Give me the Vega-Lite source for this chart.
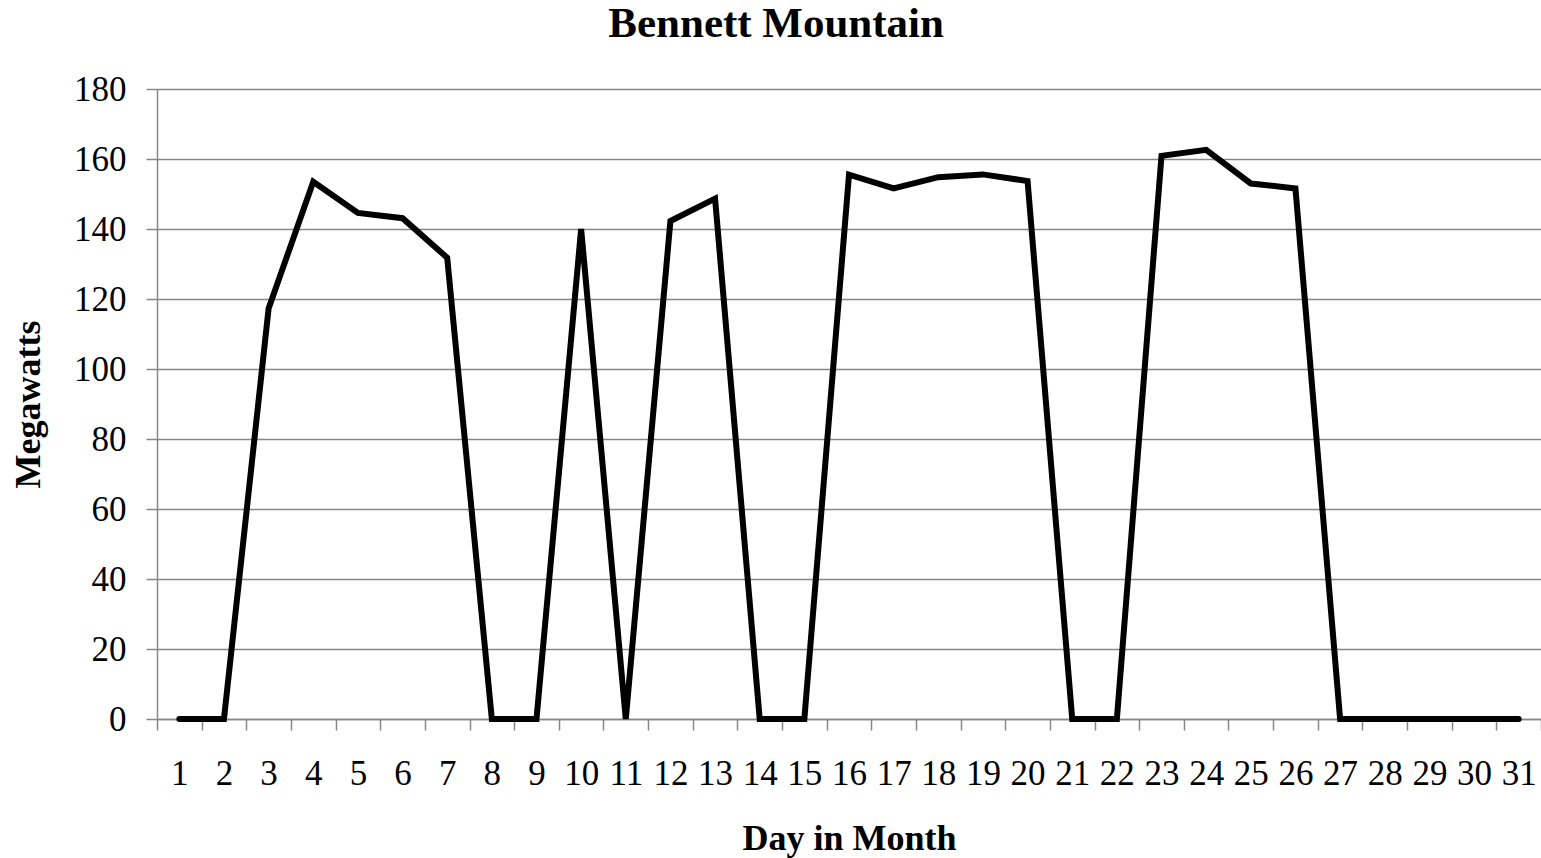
{
  "$schema": "https://vega.github.io/schema/vega-lite/v6.json",
  "autosize": "none",
  "width": 1384,
  "height": 630,
  "padding": {"left": 157, "top": 89, "right": 0, "bottom": 139},
  "background": "white",
  "title": {
    "text": "Bennett Mountain",
    "font": "Liberation Serif",
    "fontSize": 43,
    "fontWeight": "bold",
    "color": "black",
    "anchor": "middle",
    "frame": "bounds",
    "offset": 26
  },
  "config": {
    "view": {"stroke": null},
    "axis": {
      "labelFont": "Liberation Serif",
      "titleFont": "Liberation Serif",
      "labelColor": "black",
      "titleColor": "black",
      "domainColor": "#878787",
      "tickColor": "#878787",
      "gridColor": "#878787",
      "domainWidth": 1.5,
      "tickWidth": 1.5,
      "gridWidth": 1.5
    }
  },
  "data": {
    "values": [
      {"day": 1, "mw": 0},
      {"day": 2, "mw": 0},
      {"day": 3, "mw": 117.3},
      {"day": 4, "mw": 153.5},
      {"day": 5, "mw": 144.6},
      {"day": 6, "mw": 143.1},
      {"day": 7, "mw": 131.8},
      {"day": 8, "mw": 0},
      {"day": 9, "mw": 0},
      {"day": 10, "mw": 140},
      {"day": 11, "mw": 0},
      {"day": 12, "mw": 142.3},
      {"day": 13, "mw": 148.7},
      {"day": 14, "mw": 0},
      {"day": 15, "mw": 0},
      {"day": 16, "mw": 155.5},
      {"day": 17, "mw": 151.6},
      {"day": 18, "mw": 154.8},
      {"day": 19, "mw": 155.6},
      {"day": 20, "mw": 153.7},
      {"day": 21, "mw": 0},
      {"day": 22, "mw": 0},
      {"day": 23, "mw": 160.9},
      {"day": 24, "mw": 162.6},
      {"day": 25, "mw": 153},
      {"day": 26, "mw": 151.6},
      {"day": 27, "mw": 0},
      {"day": 28, "mw": 0},
      {"day": 29, "mw": 0},
      {"day": 30, "mw": 0},
      {"day": 31, "mw": 0}
    ]
  },
  "mark": {
    "type": "line",
    "color": "black",
    "strokeWidth": 6,
    "strokeCap": "round",
    "strokeJoin": "miter"
  },
  "encoding": {
    "x": {
      "field": "day",
      "type": "ordinal",
      "sort": null,
      "scale": {"type": "band", "paddingInner": 0, "paddingOuter": 0},
      "axis": {
        "title": "Day in Month",
        "titleFontSize": 36,
        "titleFontWeight": "bold",
        "titlePadding": 30,
        "labelFontSize": 35,
        "labelAngle": 0,
        "labelPadding": 26,
        "tickBand": "extent",
        "tickSize": 11,
        "grid": false,
        "labelOverlap": false
      }
    },
    "y": {
      "field": "mw",
      "type": "quantitative",
      "scale": {"domain": [0, 180], "nice": false},
      "axis": {
        "title": "Megawatts",
        "titleFontSize": 36,
        "titleFontWeight": "bold",
        "titlePadding": 26,
        "labelFontSize": 35,
        "labelPadding": 20,
        "values": [0, 20, 40, 60, 80, 100, 120, 140, 160, 180],
        "tickSize": 11,
        "grid": true
      }
    }
  }
}
